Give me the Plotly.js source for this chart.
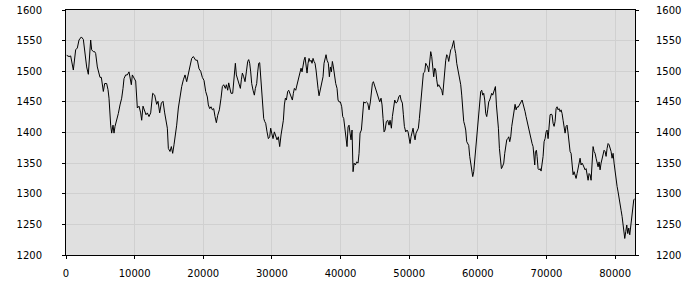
<!DOCTYPE html>
<html>
<head>
<meta charset="utf-8">
<script src="https://cdn.plot.ly/plotly-3.0.1.min.js"></script>
<style>html,body{margin:0;padding:0;background:#fff;}#chart{width:700px;height:300px;}</style>
</head>
<body>
<div id="chart"></div>
<script>
var xs = [98,438,680,1069,1409,1652,1895,2235,2526,2769,3012,3255,3400,3595,3740,3983,4177,4323,4566,4809,4955,5149,5440,5635,5926,6120,6266,6509,6654,6849,6994,7140,7383,7626,7869,8112,8306,8452,8694,8937,9180,9326,9520,9666,9909,10152,10395,10638,10880,11026,11220,11463,11657,11852,12094,12337,12483,12629,12920,13212,13406,13649,13892,14135,14377,14572,14766,14912,15155,15349,15543,15737,15883,16126,16369,16612,16855,17097,17340,17583,17777,18069,18312,18554,18749,18894,19137,19380,19623,19866,20109,20352,20594,20740,
20936,21130,21324,21518,21713,21907,22101,22344,22586,22781,22976,23218,23364,23558,23704,23850,24044,24286,24433,24578,24675,24821,25015,25210,25404,25550,25695,25890,26084,26278,26473,26618,26764,26910,27055,27250,27444,27590,27784,27930,28075,28221,28367,28512,28658,28804,28950,29095,29290,29484,29678,29824,29970,30164,30358,30552,30747,30941,31135,31330,31524,31670,31815,31961,32107,32301,32447,32593,32787,32981,33127,33272,33467,33661,33855,34049,34244,34389,34535,34681,34827,34972,35118,35264,35409,35555,35701,35847,35992,36138,36284,36429,36575,36721,36867,37061,37255,37449,37595,37741,37886,38032,38226,38372,38518,38664,38809,38955,39101,39295,39489,39635,39781,39975,40169,40315,40461,40606,40752,40946,41092,41238,41383,41529,41675,
41821,41967,42161,42355,42550,42695,42841,43035,43230,43375,43570,43764,43958,44152,44347,44492,44638,44784,44930,45124,45318,45512,45707,45901,46047,46192,46338,46484,46678,46872,47067,47212,47407,47552,47698,47892,48087,48281,48475,48670,48815,49009,49155,49301,49495,49689,49835,49981,50127,50273,50418,50564,50710,50855,51001,51147,51341,51487,51632,51778,51924,52069,52264,52409,52555,52701,52847,52992,53138,53284,53429,53575,53721,53866,54012,54158,54304,54449,54595,54741,54886,55032,55178,55324,55469,55615,55761,55906,56052,56198,56344,56489,56635,56781,56926,57072,57218,57364,57509,57655,57801,57946,58092,58238,58384,58529,58675,58821,58966,59112,59258,59403,59549,59695,59841,59986,60132,60278,60423,60569,60715,60860,61006,61152,61298,61443,61589,61735,61880,62026,62172,62318,62463,
62562,62708,62853,62999,63145,63291,63436,63582,63776,63922,64068,64213,64359,64505,64650,64796,64942,65136,65282,65428,65573,65719,65865,66010,66156,66302,66448,66593,66739,66885,67030,67176,67322,67468,67613,67759,67905,68050,68196,68293,68390,68536,68633,68779,68925,69070,69216,69362,69508,69653,69799,69945,70090,70236,70382,70527,70673,70819,70965,71110,71256,71402,71547,71693,71839,71985,72130,72276,72422,72567,72713,72859,73005,73150,73296,73442,73587,73733,73879,74025,74170,74316,74462,74607,74753,74899,75045,75190,75336,75482,75627,75773,75919,76064,76210,76356,76502,76647,76793,76939,77084,77230,77376,77522,77667,77813,77959,78104,78250,78396,78542,78687,78833,78979,79124,79270,79416,79561,79707,79853,79999,80144,80290,80436,80581,80727,80873,81018,81164,81310,81407,81553,81699,81844,81990,82136,82282,82427,82573,82719,82864];
var ys = [1526,1524,1525,1502,1535,1538,1551,1556,1552,1526,1507,1495,1526,1551,1535,1532,1532,1529,1507,1494,1490,1490,1467,1480,1480,1470,1456,1412,1399,1412,1399,1410,1420,1431,1445,1456,1472,1488,1494,1494,1499,1491,1478,1494,1490,1484,1440,1443,1432,1420,1443,1435,1429,1432,1426,1432,1446,1464,1461,1446,1451,1432,1448,1451,1432,1420,1407,1374,1369,1377,1366,1380,1390,1412,1440,1461,1475,1486,1494,1483,1494,1505,1521,1524,1521,1518,1518,1504,1500,1490,1485,1467,1458,1445,
1439,1442,1437,1439,1426,1416,1428,1437,1456,1475,1478,1472,1478,1469,1481,1472,1464,1464,1488,1497,1513,1494,1486,1480,1472,1486,1497,1491,1483,1499,1516,1519,1513,1499,1480,1469,1461,1472,1480,1499,1513,1514,1491,1472,1453,1423,1418,1415,1401,1390,1393,1407,1399,1390,1401,1396,1388,1393,1377,1396,1407,1420,1445,1456,1453,1467,1469,1464,1459,1453,1464,1472,1469,1478,1486,1497,1505,1499,1513,1518,1523,1510,1497,1513,1521,1516,1518,1513,1521,1516,1513,1502,1491,1472,1460,1469,1478,1491,1513,1524,1527,1518,1513,1491,1507,1499,1516,1507,1494,1480,1472,1453,1450,1450,1442,1426,1423,1409,1396,1377,1409,1412,1399,1388,1404,
1336,1350,1347,1352,1350,1366,1399,1404,1431,1450,1448,1450,1448,1437,1450,1469,1480,1483,1478,1472,1464,1458,1450,1456,1445,1423,1401,1404,1418,1420,1412,1420,1407,1426,1442,1453,1448,1450,1458,1461,1453,1448,1429,1410,1401,1404,1401,1393,1382,1393,1404,1407,1396,1388,1399,1404,1407,1423,1442,1464,1488,1497,1499,1513,1510,1507,1499,1518,1532,1524,1499,1491,1505,1502,1486,1475,1478,1475,1472,1469,1461,1483,1502,1518,1527,1524,1516,1529,1535,1537,1543,1550,1537,1529,1513,1505,1491,1483,1478,1461,1437,1418,1412,1404,1385,1382,1379,1361,1350,1339,1328,1336,1355,1377,1390,1410,1431,1458,1467,1469,1461,1464,1453,1431,1426,1437,1450,1453,1458,1464,1461,1467,1469,
1475,1445,1429,1407,1374,1352,1341,1344,1350,1366,1382,1388,1390,1393,1385,1393,1410,1423,1437,1446,1437,1442,1441,1445,1448,1450,1453,1448,1442,1434,1426,1418,1410,1401,1396,1385,1382,1377,1363,1347,1369,1371,1361,1341,1339,1341,1337,1347,1361,1385,1390,1401,1404,1390,1407,1429,1430,1429,1415,1410,1418,1439,1442,1437,1439,1434,1437,1431,1420,1407,1399,1410,1412,1399,1382,1369,1366,1344,1331,1336,1328,1325,1333,1344,1355,1358,1347,1350,1347,1341,1339,1341,1333,1322,1333,1331,1322,1350,1377,1369,1366,1358,1347,1344,1352,1339,1350,1358,1363,1371,1369,1361,1374,1382,1380,1374,1369,1358,1366,1350,1336,1317,1312,1303,1295,1284,1273,1263,1249,1235,1227,1238,1249,1235,1244,1233,1249,1263,1276,1290,1292];

var xRange = [0, 82900];
var yRange = [1200, 1600];

var axisFont = {family: 'DejaVu Sans, sans-serif', size: 10, color: '#000'};
var traces = [
  {x: xs, y: ys, type: 'scatter', mode: 'lines', line: {color: '#000', width: 1}, hoverinfo: 'skip', showlegend: false},
  {x: [xs[0]], y: [ys[0]], type: 'scatter', mode: 'markers', yaxis: 'y2', marker: {opacity: 0}, hoverinfo: 'skip', showlegend: false}
];
var layout = {
  width: 700, height: 300,
  margin: {l: 66, r: 65, t: 10, b: 45, pad: 0},
  paper_bgcolor: '#ffffff', plot_bgcolor: '#e0e0e0',
  font: axisFont,
  showlegend: false,
  xaxis: {range: xRange, tick0: 0, dtick: 10000, tickformat: 'd', ticks: 'outside', ticklen: 3, tickcolor: '#000',
    showline: true, linecolor: '#000', linewidth: 1, mirror: true, showgrid: true, gridcolor: '#d0d0d0', zeroline: false,
    ticklabelstandoff: 6, tickfont: axisFont},
  yaxis: {range: yRange, tick0: 1200, dtick: 50, ticks: 'outside', ticklen: 3, tickcolor: '#000',
    showline: true, linecolor: '#000', linewidth: 1, mirror: true, showgrid: true, gridcolor: '#d0d0d0', zeroline: false,
    ticklabelstandoff: 18, tickfont: axisFont},
  yaxis2: {range: yRange, tick0: 1200, dtick: 50, overlaying: 'y', side: 'right', ticks: 'outside', ticklen: 3, tickcolor: '#000',
    showline: false, showgrid: false, zeroline: false, ticklabelstandoff: 15, tickfont: axisFont}
};
Plotly.newPlot('chart', traces, layout, {displayModeBar: false, staticPlot: true});
</script>
</body>
</html>
